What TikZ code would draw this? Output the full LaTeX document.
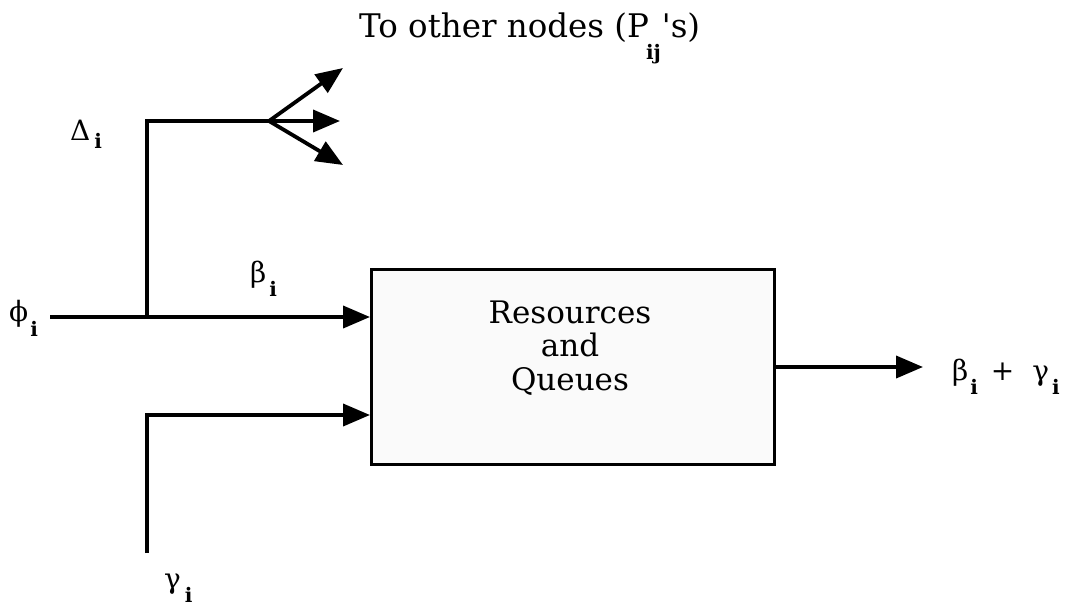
\documentclass[tikz,border=0pt]{standalone}
\usepackage{fontspec}
\setmainfont{DejaVu Serif}
% same face without the TeX quote mapping, for a straight apostrophe
\newfontfamily\straightquote{DejaVu Serif}
\usetikzlibrary{arrows.meta}
% lowered bold subscript as used in the labels
\newcommand\lowsub[2][-0.3em]{\raisebox{#1}{\fontsize{20}{20}\selectfont\bfseries #2}}
\begin{document}
\begin{tikzpicture}[x=1pt,y=-1pt,
  flow/.style={line width=3.8pt},
  arr/.style={flow,-{Triangle[length=27pt,width=22pt]}},
  lbl/.style={font=\fontsize{28}{30}\selectfont, inner sep=0pt, anchor=base west},
  txt/.style={font=\fontsize{31}{33.5}\selectfont, inner sep=0pt, align=center}]
\useasboundingbox (0,0) rectangle (1078,613);
% processing block
\node[draw, line width=3pt, fill=gray!4, minimum width=403pt, minimum height=195pt,
      anchor=north west, inner sep=0pt] (box) at (370,268) {};
% base anchor of a multi-line node sits on its last line
\node[txt, anchor=base] (boxtext) at (570,390) {Resources\\and\\Queues};
% input flow and its branch
\coordinate (phiin) at (50,317);
\coordinate (split) at (147,317);
\coordinate (topcorner) at (147,121);
\coordinate (fan) at (269,121);
\coordinate (gammain) at (147,553);
\coordinate (gammacorner) at (147,415);
\coordinate (outend) at (923,367);
\draw[flow] (phiin) -- (split);
\draw[arr] (split) -- (box.west |- split);
\draw[flow] (split) -- (topcorner) -- (fan);
\coordinate (fanup) at (343,68);
\coordinate (fanmid) at (340,121);
\coordinate (fandown) at (343,165);
\draw[arr] (fan) -- (fanup);
\draw[arr] (fan) -- (fanmid);
\draw[arr] (fan) -- (fandown);
\draw[arr] (gammain) -- (gammacorner) -- (box.west |- gammacorner);
\draw[arr] (box.east |- outend) -- (outend);
% labels
\node[lbl] (phi) at (9,321) {ϕ\hspace{2pt}\lowsub[-0.55em]{i}};
\node[lbl] (delta) at (70,140) {Δ\hspace{4pt}\lowsub{i}};
\node[lbl] (beta) at (250,282) {β\hspace{3pt}\lowsub[-0.5em]{i}};
\node[lbl] (gamma) at (164,588) {γ\hspace{4pt}\lowsub[-0.5em]{i}};
\node[lbl] (out) at (952,380) {β\hspace{2pt}\lowsub[-0.5em]{i}\hspace{13pt}+\hspace{18pt}γ\hspace{3pt}\lowsub[-0.5em]{i}};
\node[lbl, font=\fontsize{32.5}{34}\selectfont] (others) at (359,37)
  {To other nodes (P\kern-3pt\lowsub[-0.7em]{ij}\kern1pt{\straightquote'}s)};
\end{tikzpicture}
\end{document}
